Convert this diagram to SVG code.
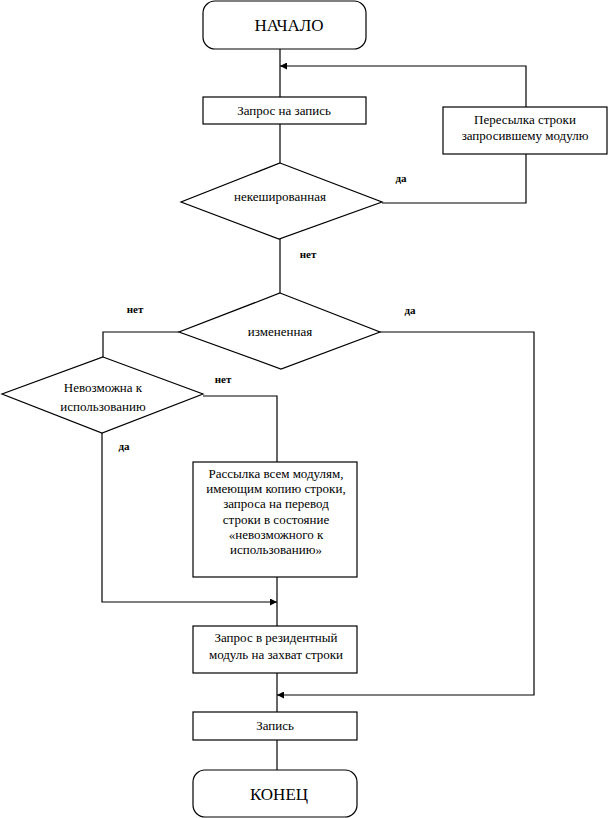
<svg xmlns="http://www.w3.org/2000/svg" width="608" height="818" viewBox="0 0 608 818" font-family="Liberation Serif, Tinos, Times New Roman, Noto Serif, DejaVu Serif, serif">
<style>
.n{fill:#fff;stroke:#000;stroke-width:1.2}
.c{fill:none;stroke:#000;stroke-width:1.2}
text{fill:#000;text-anchor:middle}
.t{font-size:13px}
.big{font-size:17px}
.lb{font-size:11px;font-weight:bold}
</style>
<defs>
<marker id="ah" viewBox="0 0 10 10" refX="10" refY="5" markerWidth="7" markerHeight="7" markerUnits="userSpaceOnUse" orient="auto">
<path d="M0,0 L10,5 L0,10 z" fill="#000"/>
</marker>
</defs>
<rect width="608" height="818" fill="#fff"/>
<g id="connectors">
<line class="c" x1="280" y1="49" x2="280" y2="97"/>
<polyline class="c" points="526,154 526,203 382,203"/>
<polyline class="c" points="526,107 526,66 280,66" marker-end="url(#ah)"/>
<line class="c" x1="280" y1="124" x2="280" y2="163"/>
<line class="c" x1="280" y1="239" x2="280" y2="293"/>
<polyline class="c" points="179,332 103,332 103,357"/>
<polyline class="c" points="203,396 277,396 277,462"/>
<polyline class="c" points="102,433 102,602 277,602" marker-end="url(#ah)"/>
<line class="c" x1="277" y1="577" x2="277" y2="626"/>
<polyline class="c" points="380,332 534,332 534,695 277,695" marker-end="url(#ah)"/>
<line class="c" x1="277" y1="673" x2="277" y2="712"/>
<line class="c" x1="277" y1="740" x2="277" y2="770"/>
<text class="lb" x="401" y="182">да</text>
<text class="lb" x="308" y="258">нет</text>
<text class="lb" x="135" y="313">нет</text>
<text class="lb" x="410" y="314">да</text>
<text class="lb" x="223" y="383">нет</text>
<text class="lb" x="124" y="450">да</text>
</g>
<g id="start">
<rect class="n" x="203" y="1" width="163" height="48" rx="12"/>
<text class="big" x="289" y="31">НАЧАЛО</text>
</g>
<g id="request">
<rect class="n" x="203" y="97" width="163" height="27"/>
<text class="t" x="284" y="115">Запрос на запись</text>
</g>
<g id="forward">
<rect class="n" x="443" y="107" width="164" height="47"/>
<text class="t" x="525" y="124">Пересылка строки</text>
<text class="t" x="525" y="140">запросившему модулю</text>
</g>
<g id="uncached">
<polygon class="n" points="280,163 382,202 279,239 181,202"/>
<text class="t" x="280" y="201">некешированная</text>
</g>
<g id="modified">
<polygon class="n" points="280,293 380,332 281,369 179,332"/>
<text class="t" x="280" y="336">измененная</text>
</g>
<g id="invalid">
<polygon class="n" points="103,357 203,394 102,433 2,394"/>
<text class="t" x="103" y="392">Невозможна к</text>
<text class="t" x="103" y="411">использованию</text>
</g>
<g id="broadcast">
<rect class="n" x="193" y="462" width="164" height="115"/>
<text class="t" x="276" y="478">Рассылка всем модулям,</text>
<text class="t" x="276" y="493">имеющим копию строки,</text>
<text class="t" x="276" y="508">запроса на перевод</text>
<text class="t" x="276" y="524">строки в состояние</text>
<text class="t" x="276" y="539">«невозможного к</text>
<text class="t" x="276" y="554">использованию»</text>
</g>
<g id="resident">
<rect class="n" x="193" y="626" width="164" height="47"/>
<text class="t" x="276" y="642">Запрос в резидентный</text>
<text class="t" x="276" y="659">модуль на захват строки</text>
</g>
<g id="write">
<rect class="n" x="193" y="712" width="164" height="28"/>
<text class="t" x="275" y="730">Запись</text>
</g>
<g id="end">
<rect class="n" x="193" y="770" width="164" height="47" rx="12"/>
<text class="big" x="279" y="800">КОНЕЦ</text>
</g>
</svg>
